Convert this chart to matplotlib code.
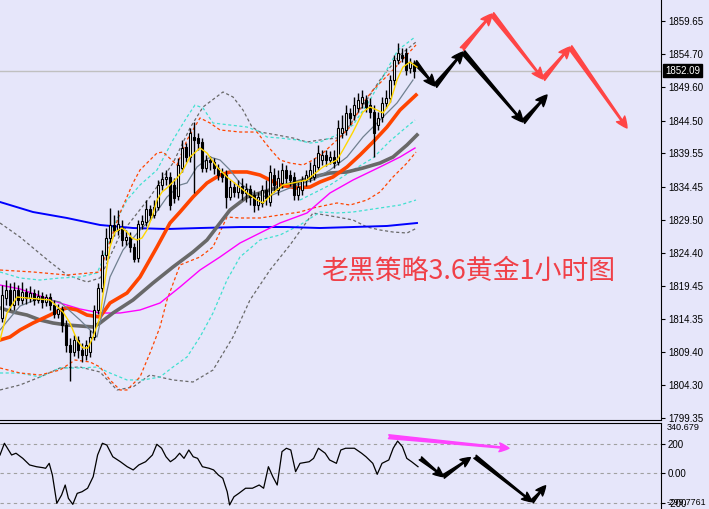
import matplotlib.pyplot as plt
from matplotlib.transforms import blended_transform_factory

BG = '#E6E6FA'

# XAUUSD H1 candles (oldest -> newest)
opens = [1814.54, 1817.58, 1818.79, 1816.52, 1818.79, 1817.28, 1818.49, 1817.58, 1818.34, 1817.28,
         1817.88, 1816.97, 1817.73, 1816.52, 1815.15, 1815.91, 1813.48, 1810.44, 1809.38, 1811.20,
         1809.68, 1808.92, 1809.38, 1811.66, 1815.76, 1819.10, 1824.11, 1826.69, 1828.67, 1827.91,
         1828.21, 1826.39, 1826.84, 1825.33, 1823.65, 1828.82, 1829.12, 1831.10, 1830.19, 1831.40,
         1834.74, 1835.65, 1835.96, 1834.74, 1833.07, 1837.32, 1840.51, 1838.99, 1842.03, 1841.88,
         1841.27, 1837.32, 1838.54, 1838.24, 1837.32, 1836.56, 1836.26, 1832.92, 1834.44, 1833.68,
         1834.59, 1833.53, 1834.13, 1833.22, 1831.70, 1832.01, 1833.98, 1832.16, 1836.26, 1833.98,
         1835.05, 1837.02, 1836.26, 1835.96, 1833.22, 1833.98, 1835.50, 1835.81, 1835.96, 1837.48,
         1838.54, 1839.30, 1838.54, 1838.99, 1838.24, 1842.64, 1843.10, 1845.68, 1845.37, 1846.44,
         1847.20, 1847.65, 1846.89, 1845.83, 1843.85, 1845.07, 1847.20, 1847.96, 1850.69, 1853.73,
         1854.49, 1854.79, 1852.51, 1852.97]
highs = [1819.55, 1820.31, 1819.86, 1820.01, 1819.55, 1820.01, 1819.10, 1819.40, 1818.95, 1818.79,
         1818.49, 1818.19, 1818.34, 1817.28, 1816.67, 1816.36, 1814.24, 1811.50, 1811.96, 1811.81,
         1810.74, 1811.20, 1812.72, 1816.52, 1819.86, 1824.87, 1828.21, 1831.25, 1830.19, 1830.95,
         1829.43, 1827.91, 1827.60, 1825.93, 1829.43, 1830.19, 1832.46, 1831.70, 1832.46, 1835.50,
         1836.72, 1837.02, 1836.72, 1835.81, 1838.84, 1841.58, 1841.12, 1843.40, 1844.31, 1842.64,
         1841.88, 1839.30, 1839.15, 1838.84, 1837.93, 1837.32, 1837.02, 1835.50, 1835.20, 1835.50,
         1835.81, 1835.05, 1834.74, 1833.98, 1833.68, 1834.74, 1835.50, 1837.78, 1837.32, 1837.02,
         1838.08, 1837.78, 1837.02, 1836.72, 1835.20, 1836.11, 1837.02, 1838.24, 1838.84, 1840.82,
         1840.06, 1840.06, 1839.91, 1840.06, 1844.61, 1845.37, 1846.89, 1846.44, 1848.11, 1848.72,
         1849.17, 1848.41, 1847.96, 1846.89, 1845.83, 1848.11, 1849.17, 1851.45, 1854.49, 1856.31,
         1855.55, 1855.55, 1854.03, 1853.73]
lows = [1813.93, 1816.52, 1815.76, 1815.76, 1816.52, 1816.67, 1816.67, 1816.97, 1816.52, 1816.82,
        1816.06, 1816.36, 1815.76, 1814.54, 1814.54, 1812.42, 1809.38, 1804.97, 1808.77, 1808.47,
        1807.86, 1808.16, 1808.62, 1811.20, 1815.15, 1818.49, 1823.35, 1825.93, 1827.00, 1827.15,
        1825.48, 1825.63, 1824.57, 1823.05, 1823.05, 1828.06, 1828.52, 1829.43, 1829.73, 1830.95,
        1833.98, 1834.74, 1830.95, 1832.01, 1832.46, 1836.72, 1838.24, 1838.24, 1833.53, 1840.06,
        1836.72, 1836.72, 1837.02, 1836.41, 1835.50, 1835.20, 1831.25, 1832.46, 1832.92, 1832.77,
        1832.46, 1832.16, 1831.70, 1830.64, 1830.95, 1831.40, 1831.70, 1831.55, 1833.68, 1833.22,
        1834.29, 1835.05, 1834.59, 1832.46, 1832.46, 1833.22, 1834.59, 1835.20, 1835.50, 1837.02,
        1837.78, 1837.63, 1837.93, 1837.32, 1837.78, 1841.88, 1842.34, 1843.85, 1844.61, 1845.83,
        1846.44, 1845.83, 1844.92, 1838.99, 1843.10, 1844.31, 1846.44, 1847.35, 1849.93, 1853.12,
        1853.42, 1851.45, 1851.75, 1850.99]
closes = [1818.04, 1818.79, 1816.52, 1818.79, 1817.28, 1818.49, 1817.58, 1818.34, 1817.28, 1817.88,
          1816.97, 1817.73, 1816.52, 1815.15, 1815.91, 1813.48, 1810.44, 1809.38, 1811.20, 1809.68,
          1808.92, 1810.44, 1811.66, 1815.76, 1819.10, 1824.11, 1826.69, 1828.67, 1827.91, 1828.82,
          1826.39, 1826.84, 1825.33, 1823.50, 1828.82, 1829.27, 1831.10, 1830.19, 1831.40, 1834.74,
          1835.65, 1835.96, 1831.70, 1832.77, 1837.78, 1840.36, 1838.99, 1842.64, 1841.58, 1841.12,
          1837.32, 1838.54, 1838.24, 1837.32, 1836.26, 1835.96, 1832.92, 1834.44, 1833.68, 1834.59,
          1833.53, 1834.13, 1832.92, 1831.70, 1832.92, 1833.98, 1832.77, 1836.72, 1834.74, 1835.81,
          1837.02, 1835.81, 1835.50, 1833.22, 1834.44, 1835.50, 1836.26, 1837.02, 1837.78, 1839.60,
          1839.30, 1838.54, 1838.99, 1838.08, 1843.40, 1843.40, 1845.68, 1844.92, 1846.89, 1847.65,
          1848.11, 1846.59, 1845.83, 1842.64, 1844.92, 1847.20, 1847.96, 1850.69, 1853.73, 1854.79,
          1854.03, 1852.21, 1853.42, 1852.09]
last_price = 1852.09

# moving averages (bar position / price)
yellow_x = [-0.5, 1.25, 3.75, 6.25, 12, 15.25, 17, 18.75, 20.25, 21.5, 22.75, 24.5, 25.75, 27, 28.25,
            30, 31.25, 32.5, 33.75, 35, 36.25, 37.5, 38.75, 40, 41.25, 42.5, 43.75, 45, 47, 49.5,
            51.25, 53.75, 56.25, 58.75, 61.25, 63.75, 65.25, 67.75, 70.25, 72.75, 76.25, 77.75, 80.25,
            83.75, 85.25, 87.75, 90.25, 92, 93.75, 95.25, 97, 98.75, 100.25, 102, 103.75]
yellow_y = [1811.20, 1815.30, 1817.73, 1817.58, 1817.28, 1815.45, 1813.78, 1811.20, 1809.99, 1809.99,
            1811.66, 1814.69, 1820.31, 1825.33, 1827.60, 1828.21, 1827.60, 1826.69, 1826.39, 1826.69,
            1827.91, 1829.88, 1832.46, 1833.68, 1834.29, 1835.05, 1835.81, 1836.72, 1838.99, 1840.36,
            1839.60, 1837.48, 1835.96, 1834.74, 1833.53, 1832.46, 1832.01, 1833.53, 1834.74, 1835.05,
            1835.50, 1836.26, 1837.48, 1838.54, 1840.06, 1842.79, 1845.83, 1846.59, 1846.13, 1845.68,
            1847.20, 1850.69, 1852.66, 1853.42, 1852.66]
slate_x = [-0.5, 4.5, 9.5, 14.5, 19.5, 23.75, 27, 30.25, 34.5, 37.75, 41.25, 44.5, 46.25, 48.75, 52,
           54.5, 57, 59.5, 62.75, 66.25, 69.5, 73.75, 77.75, 82, 86.25, 90.25, 94.5, 98.75, 102.75]
slate_y = [1812.72, 1816.36, 1817.58, 1816.97, 1814.24, 1811.66, 1820.77, 1824.87, 1827.91, 1829.88,
           1832.92, 1834.74, 1835.05, 1837.48, 1838.99, 1838.54, 1837.02, 1835.05, 1833.53, 1832.92,
           1833.68, 1834.74, 1835.50, 1837.02, 1838.99, 1842.03, 1844.61, 1847.20, 1850.69]
orange_x = [-0.5, 2, 4.5, 7.75, 12, 14.5, 16.25, 18.75, 21.25, 24.5, 27, 31.25, 34.5, 38.75, 42,
            44.5, 47.75, 51.25, 54.5, 57, 61.25, 64.5, 67, 69.5, 73.75, 77, 79.5, 82.75, 86.25,
            89.5, 92.75, 96.25, 99.5, 103.5]
orange_y = [1811.20, 1811.66, 1812.72, 1813.78, 1814.99, 1815.76, 1816.06, 1815.76, 1814.99, 1814.69,
            1816.82, 1818.34, 1820.77, 1825.33, 1828.97, 1830.64, 1832.92, 1835.05, 1836.26, 1836.72,
            1836.72, 1836.26, 1835.50, 1834.74, 1834.29, 1834.44, 1835.20, 1835.96, 1837.48, 1839.30,
            1841.27, 1843.55, 1846.13, 1848.41]
gray_x = [-0.5, 2.75, 6.25, 9.5, 12.75, 16.25, 19.5, 22.75, 24.5, 27.75, 32.75, 37.75, 42.75, 47.75,
          51.25, 57, 61.25, 65.25, 69.5, 73.75, 77.75, 82, 86.25, 90.25, 94.5, 97.75, 101.25, 103.75]
gray_y = [1816.06, 1815.45, 1814.99, 1814.24, 1813.78, 1813.48, 1813.33, 1813.18, 1813.78, 1815.30,
          1817.28, 1819.86, 1822.29, 1824.57, 1826.39, 1830.95, 1832.92, 1833.68, 1834.44, 1835.20,
          1835.96, 1836.56, 1836.72, 1837.32, 1838.08, 1838.99, 1840.82, 1842.34]
magenta_x = [-0.5, 4.5, 9.5, 14.5, 19.5, 24.5, 29.5, 34.5, 39.5, 44.5, 49.5, 54.5, 59.5, 64.5, 69.5,
             76.25, 82, 87.75, 94.5, 99.5, 103.25]
magenta_y = [1819.55, 1818.95, 1817.88, 1816.82, 1815.91, 1815.30, 1815.30, 1815.76, 1816.82, 1819.25,
             1821.83, 1823.81, 1825.93, 1827.45, 1828.97, 1830.49, 1833.53, 1835.50, 1837.48, 1838.99,
             1840.36]
blue_x = [-0.5, 7.75, 16.25, 24.5, 32.75, 41.25, 49.5, 59.5, 71.25, 79.5, 87.75, 96.25, 103.75]
blue_y = [1832.16, 1830.64, 1829.73, 1828.67, 1828.21, 1828.06, 1828.21, 1828.36, 1828.36, 1828.21,
          1828.36, 1828.52, 1828.97]

# envelope / band lines (dashed)
ob_up_x = [-0.5, 7.75, 16.25, 24.5, 26.25, 29.5, 32.75, 34.5, 38.75, 40.25, 43.75, 46.25, 49.5, 52,
           54.5, 59.5, 63.75, 65.25, 67.25, 69.5, 72, 75.25, 77.75, 80.25, 83.75, 87, 90.25, 92.75,
           95.25, 97.75, 103.5]
ob_up_y = [1821.83, 1821.53, 1821.07, 1821.53, 1824.87, 1830.49, 1835.05, 1837.02, 1839.60, 1839.75,
           1837.78, 1841.58, 1844.92, 1844.16, 1843.10, 1842.79, 1842.79, 1841.58, 1840.06, 1838.54,
           1838.08, 1837.78, 1838.54, 1839.60, 1841.58, 1843.55, 1847.20, 1849.17, 1850.69, 1852.21,
           1856.01]
ob_lo_x = [-0.5, 4.5, 9.5, 14.5, 18.25, 22, 24.5, 27, 29.5, 31.25, 34.5, 37, 39.5, 41.25, 44.5, 49.5,
           52.75, 56.25, 59.5, 64.5, 69.5, 74.5, 77.75, 83.75, 87, 91.25, 94.5, 97.75, 101.25, 103.5]
ob_lo_y = [1806.95, 1806.19, 1805.89, 1806.64, 1808.16, 1807.86, 1807.10, 1805.13, 1803.61, 1803.61,
           1805.58, 1809.23, 1813.18, 1817.28, 1822.59, 1823.81, 1825.33, 1829.88, 1829.73, 1829.73,
           1830.19, 1830.64, 1831.25, 1832.01, 1831.70, 1832.46, 1833.68, 1835.96, 1838.08, 1839.75]
cb_up_x = [-0.5, 4.5, 9.5, 14.5, 19.5, 23.75, 25.25, 27.75, 31.25, 34.5, 38.75, 42.75, 46.25, 48.25,
           50.25, 52.75, 57, 61.25, 64.5, 66.25, 69.5, 73.75, 77, 79.5, 83.75, 87.75, 92, 95.75, 99,
           103.25]
cb_up_y = [1821.53, 1820.62, 1820.31, 1820.62, 1820.77, 1821.38, 1823.35, 1828.36, 1832.46, 1834.74,
           1837.02, 1841.58, 1845.07, 1846.89, 1846.44, 1844.16, 1843.85, 1843.55, 1842.79, 1842.03,
           1841.88, 1841.58, 1841.12, 1841.27, 1842.34, 1843.85, 1847.65, 1851.75, 1855.25, 1857.22]
cb_lo_x = [-0.5, 4.5, 9.5, 14.5, 19.5, 23.75, 27, 31.25, 35.25, 39.5, 42.75, 46.25, 49.5, 52.75, 56.25,
           59.5, 64.5, 69.5, 74.5, 79.5, 83.75, 87.75, 94.5, 99.5, 103.5]
cb_lo_y = [1806.19, 1806.19, 1805.58, 1806.95, 1806.95, 1807.10, 1806.19, 1805.13, 1805.13, 1805.58,
           1807.10, 1808.62, 1811.66, 1815.30, 1820.31, 1823.81, 1826.39, 1827.15, 1828.67, 1830.64,
           1830.49, 1830.64, 1831.25, 1831.70, 1832.46]
cb_in_x = [74.5, 82, 87.75, 92.75, 97, 100.25, 103.25]
cb_in_y = [1832.46, 1834.74, 1837.02, 1838.84, 1841.42, 1843.10, 1844.61]
gb_up_x = [-0.5, 4.5, 12, 16.25, 21.25, 24.5, 29.5, 37, 42.75, 47, 50.25, 55.25, 57.75, 60.25, 62.5,
           64.5, 68.75, 72.75, 76.25, 79.5, 83.75, 85.25, 89.5, 94.5, 99.5, 103.5]
gb_up_y = [1828.97, 1826.84, 1823.05, 1821.07, 1820.01, 1820.62, 1827.15, 1832.92, 1838.08, 1843.40,
           1846.59, 1848.87, 1848.11, 1846.13, 1843.55, 1842.79, 1842.34, 1841.88, 1841.27, 1841.58,
           1841.88, 1842.34, 1846.13, 1850.69, 1854.49, 1856.46]
gb_lo_x = [-0.5, 4.5, 9.5, 14.5, 19.5, 24.5, 28.75, 32.75, 37, 42.75, 47.75, 52.75, 57.75, 62, 67, 72,
           77.75, 83.75, 87.75, 91.25, 94.5, 97.75, 101.25, 103.75]
gb_lo_y = [1803.61, 1804.37, 1805.58, 1806.95, 1807.10, 1806.34, 1803.61, 1804.07, 1805.89, 1805.13,
           1804.82, 1806.64, 1811.66, 1817.28, 1821.83, 1825.63, 1830.49, 1829.88, 1829.43, 1828.36,
           1827.91, 1827.60, 1827.45, 1828.21]

price_ticks = [1859.65, 1854.70, 1849.60, 1844.50, 1839.55, 1834.45, 1829.50, 1824.40,
               1819.45, 1814.35, 1809.40, 1804.30, 1799.35]

# CCI sub window
cci_x = [-0.5, 0.6, 2.4, 3.5, 5.2, 6.9, 8.6, 10.3, 10.9, 11.8, 12.6, 13.7, 14.9, 15.8, 16.6, 17.7,
         18.8, 20, 21.4, 22.8, 23.9, 25.1, 26.2, 27.7, 29.6, 31.3, 32.8, 34.2, 35.9, 37.6, 38.7, 39.9,
         41, 42.1, 43.3, 44.4, 45.5, 46.7, 47.8, 48.9, 50.1, 51.8, 52.9, 54.1, 55.2, 56.3, 56.9, 58,
         59.2, 60.9, 62.6, 64.3, 65.4, 66.6, 67.7, 68.8, 70, 71.1, 72.2, 73.4, 74.5, 76.8, 77.9, 79.1,
         80.8, 81.9, 83.6, 84.7, 85.9, 88.1, 89.9, 91, 92.7, 93.8, 95, 96.7, 97.8, 98.9, 100.1, 101.2,
         102.4, 104]
cci_y = [125, 205, 125, 137, 102, 57, 45, 38, 34, 68, -12, -205, -148, -80, -171, -212,
         -137, -126, -102, -23, 125, 205, 193, 113, 79, 45, 23, 57, 79, 125, 198, 171,
         113, 79, 102, 137, 102, 159, 113, 102, 45, 34, 23, -12, -34, -126, -216, -160,
         -137, -102, -102, -80, -102, 45, -23, -80, 148, 171, 159, 11, 68, 79, 102, 171,
         137, 91, 68, 159, 171, 171, 137, 113, 68, -7, 68, 91, 171, 220, 182, 102,
         79, 45]
cci_levels = [200, 0, -200]
cci_max, cci_min = 340.679, -299.7761

# hand-drawn forecast arrows: (bar, price) tail -> head
black_arrows = [((103.25, 1853.42), (108.25, 1849.78)), ((108.25, 1849.78), (115.25, 1854.94)),
                ((115.25, 1854.94), (130.25, 1844.31)), ((130.25, 1844.31), (136.25, 1848.41))]
red_arrows = [((115.0, 1855.40), (122.5, 1860.71)), ((122.5, 1860.71), (135.25, 1850.84)),
              ((135.25, 1850.84), (142.0, 1855.70)), ((142.0, 1855.70), (156.25, 1843.40))]
sub_black_arrows = [((104.6, 102), (110.3, -23)), ((110.3, -23), (117.1, 107)),
                    ((118.25, 113), (132.45, -194)), ((132.45, -194), (135.9, -85))]
sub_pink_arrow = ((96.65, 250), (126.75, 171))

title = '老黑策略3.6黄金1小时图'

fig = plt.figure(figsize=(7.09, 5.09), dpi=100, facecolor=BG)
ax = fig.add_axes([0, 89 / 509, 661 / 709, 420 / 509], facecolor=BG)
sub = fig.add_axes([0, -8.2 / 509, 661 / 709, 93.8 / 509], facecolor=BG)

for a in (ax, sub):
    a.set_xlim(-0.5, 164.75)
    a.set_xticks([])
    a.spines['left'].set_visible(False)
    a.spines['right'].set_color('black')
    a.yaxis.tick_right()
    a.tick_params(axis='y', direction='out', length=3, width=0.8, pad=2,
                  labelsize=7, labelfontfamily='Liberation Sans')
ax.spines['top'].set_visible(False)
sub.spines['bottom'].set_visible(False)

ax.set_ylim(1799.05, 1862.84)
ax.set_yticks(price_ticks)
ax.set_yticklabels([f'{t:.2f}' for t in price_ticks])

# bands
dash = (0, (2.5, 2))
for xs, ys, col in [(gb_up_x, gb_up_y, '#696969'), (gb_lo_x, gb_lo_y, '#696969'),
                    (cb_up_x, cb_up_y, '#40E0D0'), (cb_lo_x, cb_lo_y, '#40E0D0'),
                    (cb_in_x, cb_in_y, '#40E0D0'),
                    (ob_up_x, ob_up_y, '#FF4500'), (ob_lo_x, ob_lo_y, '#FF4500')]:
    ax.plot(xs, ys, color=col, lw=0.9, ls=dash)

ax.plot(blue_x, blue_y, color='#0000FF', lw=1.4)
ax.plot(magenta_x, magenta_y, color='#FF00FF', lw=1.0)
ax.plot(gray_x, gray_y, color='#696969', lw=2.6)
ax.plot(orange_x, orange_y, color='#FF4500', lw=2.6)
ax.plot(slate_x, slate_y, color='#708090', lw=0.9)

ax.axhline(last_price, color='#C0C0C0', lw=1)

# candles
idx = list(range(len(closes)))
ax.vlines(idx, lows, highs, color='black', lw=1, zorder=4)
heights = [c - o if abs(c - o) > 0.15 else 0.15 for o, c in zip(opens, closes)]
colors = ['white' if c >= o else 'black' for o, c in zip(opens, closes)]
ax.bar(idx, heights, bottom=opens, width=0.7, color=colors, edgecolor='black', lw=0.8, zorder=5)

ax.plot(yellow_x, yellow_y, color='#FFD700', lw=1.0, zorder=6)

# current price tag
tr = blended_transform_factory(ax.transAxes, ax.transData)
ax.text(1.006, last_price, f'{last_price:.2f}', transform=tr, ha='left', va='center',
        fontsize=7, family='Liberation Sans', color='white',
        bbox=dict(facecolor='black', edgecolor='black', pad=1.2), zorder=10, clip_on=False)

arrow_style = 'fancy,head_length=0.5,head_width=0.45,tail_width=0.2'
for (t, h) in black_arrows:
    ax.annotate('', xy=h, xytext=t, arrowprops=dict(arrowstyle=arrow_style, color='black',
                shrinkA=0, shrinkB=0, mutation_scale=16))
for (t, h) in red_arrows:
    ax.annotate('', xy=h, xytext=t, arrowprops=dict(arrowstyle=arrow_style, color='#FF4545',
                shrinkA=0, shrinkB=0, mutation_scale=16))

ax.text(0.708, 0.355, title, transform=ax.transAxes, ha='center', va='center',
        fontsize=19.4, color='#F04048', family=['Noto Sans CJK SC', 'DejaVu Sans'])

# sub window
sub.set_ylim(cci_min, cci_max)
for lv in cci_levels:
    sub.axhline(lv, color='#A0A0A0', lw=0.8, ls=(0, (3, 3)))
sub.plot(cci_x, cci_y, color='black', lw=0.9)
sub.set_yticks(cci_levels)
sub.set_yticklabels(['200', '0.00', '-200'])
trs = blended_transform_factory(sub.transAxes, sub.transData)
sub.text(1.008, cci_max, f'{cci_max:.3f}', transform=trs, ha='left', va='top', fontsize=6.6,
         family='Liberation Sans')
sub.text(1.008, -200, f'{cci_min:.4f}', transform=trs, ha='left', va='center', fontsize=6.3,
         family='Liberation Sans')
sub.annotate('', xy=sub_pink_arrow[1], xytext=sub_pink_arrow[0],
             arrowprops=dict(arrowstyle=arrow_style, color='#FF44FF', shrinkA=0, shrinkB=0,
                             mutation_scale=14))
for (t, h) in sub_black_arrows:
    sub.annotate('', xy=h, xytext=t, arrowprops=dict(arrowstyle=arrow_style, color='black',
                 shrinkA=0, shrinkB=0, mutation_scale=14))

fig.savefig('out.png', dpi=100, facecolor=BG)
